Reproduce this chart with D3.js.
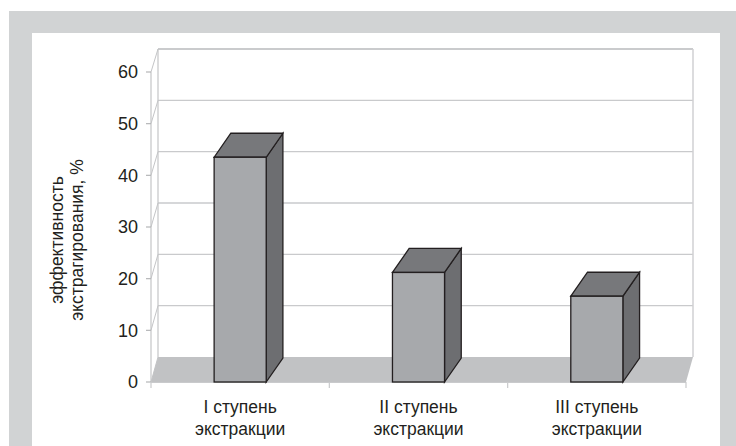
<!DOCTYPE html>
<html><head><meta charset="utf-8">
<script src="https://cdn.jsdelivr.net/npm/d3@7"></script>
<style>html,body{margin:0;padding:0;background:#fff;}svg{display:block;}</style>
</head><body>
<script>
const categories = [["I ступень","экстракции"],["II ступень","экстракции"],["III ступень","экстракции"]];
const values = [43.5, 21.2, 16.6];
const yTicks = [0,10,20,30,40,50,60];
const yTitle = ["эффективность","экстрагирования, %"];

const W=736,H=446;
const svg=d3.select("body").append("svg").attr("width",W).attr("height",H);
const font="'Liberation Sans', Arial, sans-serif";
const ink="#231f20";

// frame
svg.append("rect").attr("x",9).attr("y",11).attr("width",W-9).attr("height",H-11).attr("fill","#d1d3d4");
svg.append("rect").attr("x",32).attr("y",33).attr("width",720-32).attr("height",H-33).attr("fill","#fff");

// scales
const yFront=d3.scaleLinear().domain([0,60]).range([382,72]);
const yBack=d3.scaleLinear().domain([0,60]).range([357,49]);
const xFrontL=151, xFrontR=686, xBackL=158, xBackR=693;
const x=d3.scaleBand().domain(d3.range(categories.length)).range([xFrontL,xFrontR]).paddingInner(0.708).paddingOuter(0.354);
const bdx=16.7, bdy=-24;

// back wall gridlines
const g=svg.append("g");
g.selectAll(".grid").data(yTicks.filter(t=>t>0)).join("line")
  .attr("x1",xBackL).attr("x2",xBackR).attr("y1",d=>yBack(d)).attr("y2",d=>yBack(d))
  .attr("stroke",d=>d===60?"#b9babd":"#c9cacc").attr("stroke-width",d=>d===60?1.6:1.3);
// side wall diagonals
g.selectAll(".diag").data(yTicks).join("line")
  .attr("x1",xFrontL).attr("y1",d=>yFront(d)).attr("x2",xBackL).attr("y2",d=>yBack(d))
  .attr("stroke","#c4c5c7").attr("stroke-width",1);
// back wall edges
g.append("line").attr("x1",xBackL).attr("x2",xBackL).attr("y1",yBack(60)).attr("y2",yBack(0)).attr("stroke","#c4c5c7").attr("stroke-width",1.2);
g.append("line").attr("x1",xBackR).attr("x2",xBackR).attr("y1",yBack(60)).attr("y2",yBack(0)).attr("stroke","#d0d1d3").attr("stroke-width",1.5);

// floor
g.append("polygon")
  .attr("points",[[xFrontL,yFront(0)],[xFrontR,yFront(0)],[xBackR,yBack(0)],[xBackL,yBack(0)]].map(p=>p.join(",")).join(" "))
  .attr("fill","#c1c2c4");

// front axes
g.append("line").attr("x1",xFrontL).attr("x2",xFrontL).attr("y1",yFront(60)).attr("y2",yFront(0)).attr("stroke","#c4c5c7").attr("stroke-width",1.2);
g.append("line").attr("x1",xFrontL).attr("x2",xFrontR).attr("y1",yFront(0)+0.5).attr("y2",yFront(0)+0.5).attr("stroke","#c9cacc").attr("stroke-width",1.2);
g.selectAll(".yt").data(yTicks).join("line")
  .attr("x1",xFrontL-5).attr("x2",xFrontL).attr("y1",d=>yFront(d)).attr("y2",d=>yFront(d))
  .attr("stroke","#b5b6b8").attr("stroke-width",1.2);
const bounds=d3.range(categories.length+1).map(i=>xFrontL+i*x.step());
g.selectAll(".xt").data(bounds).join("line")
  .attr("x1",d=>d).attr("x2",d=>d).attr("y1",yFront(0)).attr("y2",yFront(0)+6)
  .attr("stroke","#c9cacc").attr("stroke-width",1.2);

// y tick labels
svg.selectAll(".yl").data(yTicks).join("text")
  .attr("x",138).attr("y",d=>yFront(d)).attr("dy","0.36em")
  .attr("text-anchor","end").attr("font-family",font).attr("font-size",18).attr("fill",ink)
  .text(d=>d);

// y title
const yt=svg.append("text").attr("transform","translate(0,240) rotate(-90)")
  .attr("text-anchor","middle").attr("font-family",font).attr("font-size",17.5).attr("fill",ink);
yt.selectAll("tspan").data(yTitle).join("tspan").attr("x",0).attr("y",(d,i)=>63+i*20).text(d=>d);

// bars
const bars=svg.selectAll(".bar").data(values).join("g");
function pts(a){return a.map(p=>p.join(",")).join(" ");}
bars.each(function(v,i){
  const gg=d3.select(this);
  const x0=x(i), x1=x(i)+x.bandwidth(), yt=yFront(v), yb=yFront(0);
  gg.append("polygon").attr("points",pts([[x1,yt],[x1+bdx,yt+bdy],[x1+bdx,yb+bdy],[x1,yb]]))
    .attr("fill","#6d6e71").attr("stroke",ink).attr("stroke-width",1.3);
  gg.append("polygon").attr("points",pts([[x0,yt],[x0+bdx,yt+bdy],[x1+bdx,yt+bdy],[x1,yt]]))
    .attr("fill","#77787b").attr("stroke",ink).attr("stroke-width",1.3);
  gg.append("rect").attr("x",x0).attr("y",yt).attr("width",x1-x0).attr("height",yb-yt)
    .attr("fill","#a7a9ac").attr("stroke",ink).attr("stroke-width",1.3);
});

// category labels
const cl=svg.selectAll(".cl").data(categories).join("text")
  .attr("text-anchor","middle").attr("font-family",font).attr("font-size",17.5).attr("fill",ink);
cl.selectAll("tspan").data((d,i)=>d.map(s=>({s,i}))).join("tspan")
  .attr("x",d=>x(d.i)+x.bandwidth()/2).attr("y",(d,j)=>413+j*22).text(d=>d.s);
</script>
</body></html>
